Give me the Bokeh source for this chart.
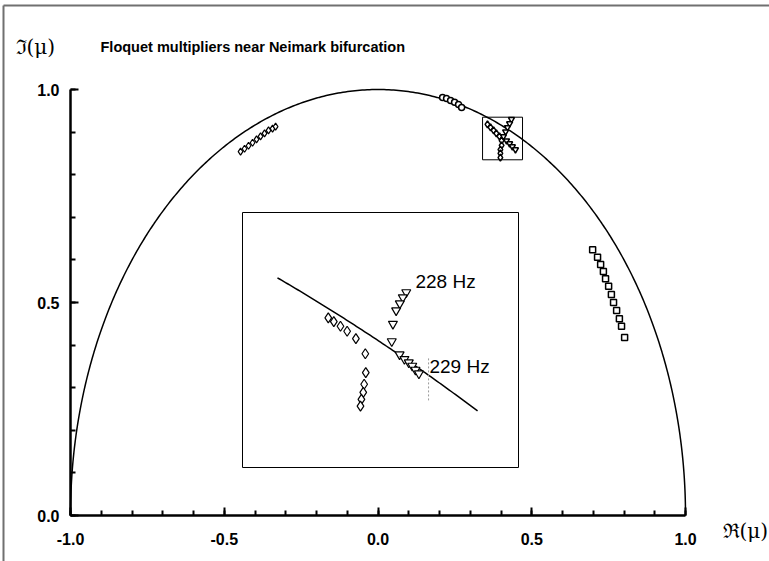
import numpy as np
from bokeh.plotting import figure
from bokeh.models import Range1d, SingleIntervalTicker, Label, LinearAxis, PrintfTickFormatter
from bokeh.embed import file_html
from bokeh.resources import INLINE

# ---------------- data ----------------
left_re = [-0.447, -0.434, -0.421, -0.408, -0.395, -0.382, -0.369, -0.356, -0.343, -0.333]
left_im = [0.854, 0.861, 0.868, 0.875, 0.883, 0.890, 0.897, 0.904, 0.908, 0.913]

top_re = [0.210, 0.223, 0.236, 0.249, 0.262, 0.272]
top_im = [0.981, 0.979, 0.974, 0.970, 0.965, 0.958]

right_re = [0.698, 0.714, 0.724, 0.733, 0.740, 0.750, 0.759, 0.766, 0.776, 0.785, 0.792, 0.802]
right_im = [0.624, 0.606, 0.589, 0.573, 0.556, 0.538, 0.519, 0.500, 0.481, 0.462, 0.444, 0.418]

box_dia_re = [0.356, 0.366, 0.376, 0.385, 0.395, 0.402, 0.402, 0.398, 0.398, 0.398]
box_dia_im = [0.918, 0.911, 0.904, 0.897, 0.890, 0.880, 0.869, 0.859, 0.850, 0.840]
box_tri_re = [0.434, 0.428, 0.421, 0.415, 0.408, 0.418, 0.428, 0.437, 0.447]
box_tri_im = [0.930, 0.920, 0.911, 0.901, 0.890, 0.880, 0.873, 0.866, 0.859]

zoom_x = [0.340, 0.470]
zoom_y = [0.835, 0.935]

inset_x = [0.3558, 0.4758]
inset_y = [0.8721, 0.9481]
ins_dia_re = [0.3931, 0.3955, 0.3984, 0.4013, 0.4051, 0.4092, 0.4094, 0.4087, 0.4083, 0.4075, 0.4071]
ins_dia_im = [0.9167, 0.9156, 0.9142, 0.9127, 0.9105, 0.9060, 0.9004, 0.8969, 0.8945, 0.8924, 0.8904]
ins_tri_re = [0.4270, 0.4255, 0.4242, 0.4226, 0.4212, 0.4207, 0.4241, 0.4262, 0.4281, 0.4296, 0.4310, 0.4325]
ins_tri_im = [0.9243, 0.9228, 0.9210, 0.9189, 0.9149, 0.9097, 0.9058, 0.9044, 0.9034, 0.9024, 0.9012, 0.9001]
ins_circle_re = [0.371, 0.458]
marker_line_re = 0.4367
marker_line_im = [0.8921, 0.9049]
freq_labels = ["228 Hz", "229 Hz"]
freq_label_re = [0.4310, 0.4371]
freq_label_im = [0.9275, 0.9022]

title_text = "Floquet multipliers near Neimark bifurcation"
y_axis_text = "ℑ(μ)"
x_axis_text = "ℜ(μ)"

# ---------------- layout ----------------
W, H = 769, 561
FL, FR, FT, FB = 70, 685, 89, 515          # pixel box of the data area (-1..1, 0..1)
IL, IR, IT, IB = 242, 518, 212, 467        # inset pixels
SX = (FR - FL) / 2.0
SY = (FB - FT) / 1.0


def px2x(px):
    return -1.0 + (px - FL) / SX


def py2y(py):
    return (FB - py) / SY


p = figure(width=W, height=H, output_backend="svg", toolbar_location=None,
           x_range=Range1d(px2x(0), px2x(W)), y_range=Range1d(py2y(H), py2y(0)),
           x_axis_location=None, y_axis_location=None,
           min_border=0, min_border_left=0, min_border_right=0,
           min_border_top=0, min_border_bottom=0)
p.outline_line_color = None
p.xgrid.visible = False
p.ygrid.visible = False
p.background_fill_color = "white"
p.border_fill_color = "white"

xax = LinearAxis(fixed_location=0.0, bounds=(-1.0, 1.0))
yax = LinearAxis(fixed_location=-1.0, bounds=(0.0, 1.0))
for ax in (xax, yax):
    ax.ticker = SingleIntervalTicker(interval=0.5, num_minor_ticks=5)
    ax.formatter = PrintfTickFormatter(format="%.1f")
    ax.axis_line_width = 2.5
    ax.axis_line_color = "black"
    ax.major_tick_line_width = 2
    ax.minor_tick_line_width = 2
    ax.major_tick_in = 8
    ax.major_tick_out = 0
    ax.minor_tick_in = 5
    ax.minor_tick_out = 0
    ax.major_label_text_font = "Liberation Sans"
    ax.major_label_text_font_style = "bold"
    ax.major_label_text_font_size = "16px"
    ax.major_label_text_color = "black"
xax.major_label_standoff = 17
yax.major_label_standoff = 11
p.add_layout(xax, "below")
p.add_layout(yax, "left")

# unit circle
th = np.linspace(0, np.pi, 400)
p.line(np.cos(th), np.sin(th), line_color="black", line_width=1.5)

p.scatter(left_re, left_im, marker="diamond", size=7, fill_color="white", line_color="black", line_width=1.2)
p.scatter(top_re, top_im, marker="circle", size=6, fill_color="white", line_color="black", line_width=1.5)
p.scatter(right_re, right_im, marker="square", size=6, fill_color="white", line_color="black", line_width=1.5)
p.scatter(box_dia_re, box_dia_im, marker="diamond", size=7, fill_color="white", line_color="black", line_width=1.5)
p.scatter(box_tri_re, box_tri_im, marker="inverted_triangle", size=6, fill_color="white", line_color="black", line_width=1.5)
p.quad(left=[zoom_x[0]], right=[zoom_x[1]], bottom=[zoom_y[0]], top=[zoom_y[1]],
       fill_alpha=0, line_color="black", line_width=1)

# inset ranges mapped into the inset rectangle
wx = inset_x[1] - inset_x[0]
wy = inset_y[1] - inset_y[0]
p.extra_x_ranges = {"ix": Range1d(inset_x[0] - IL / (IR - IL) * wx,
                                   inset_x[1] + (W - IR) / (IR - IL) * wx)}
p.extra_y_ranges = {"iy": Range1d(inset_y[0] - (H - IB) / (IB - IT) * wy,
                                   inset_y[1] + IT / (IB - IT) * wy)}
kw = dict(x_range_name="ix", y_range_name="iy")
p.quad(left=[inset_x[0]], right=[inset_x[1]], bottom=[inset_y[0]], top=[inset_y[1]],
       fill_color="white", line_color="black", line_width=1, **kw)
cx = np.linspace(ins_circle_re[0], ins_circle_re[1], 100)
p.line(cx, np.sqrt(1 - cx ** 2), line_color="black", line_width=1.5, **kw)
p.line([marker_line_re, marker_line_re], marker_line_im, line_color="#999999",
       line_width=1, line_dash="2 2", **kw)
p.scatter(ins_dia_re, ins_dia_im, marker="diamond", size=10, fill_color="white",
          line_color="black", line_width=1.2, **kw)
p.scatter(ins_tri_re, ins_tri_im, marker="inverted_triangle", size=9, fill_color="white",
          line_color="black", line_width=1.2, **kw)
for t, x, y in zip(freq_labels, freq_label_re, freq_label_im):
    p.add_layout(Label(x=x, y=y, text=t, text_font="Liberation Sans", text_font_size="19px",
                       text_baseline="middle", text_align="left", text_color="black", **kw))

# texts
p.add_layout(Label(x=px2x(15), y=py2y(46), text=y_axis_text, text_font="DejaVu Serif",
                   text_font_size="20px", text_baseline="middle", text_color="black"))
p.add_layout(Label(x=px2x(100), y=py2y(46), text=title_text, text_font="Liberation Sans",
                   text_font_style="bold", text_font_size="14.5px", text_baseline="middle",
                   text_color="black"))
p.add_layout(Label(x=px2x(722), y=py2y(530), text=x_axis_text, text_font="DejaVu Serif",
                   text_font_size="20px", text_baseline="middle", text_color="black"))

# outer frame lines of the picture
p.line([px2x(3), px2x(3)], [py2y(H + 5), py2y(5)], line_color="#707070", line_width=2)
p.line([px2x(3), px2x(W + 5)], [py2y(5), py2y(5)], line_color="#707070", line_width=2)

open("out.html", "w").write(file_html(p, INLINE))
